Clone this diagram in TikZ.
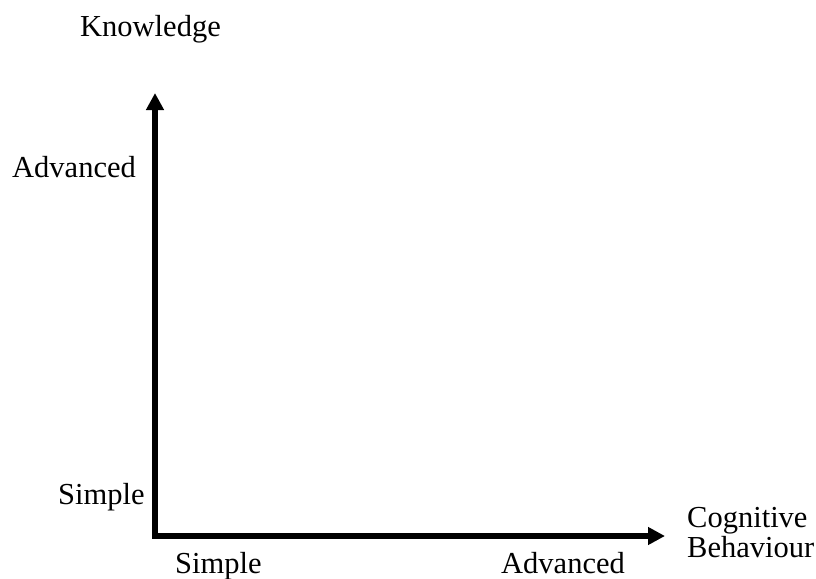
\documentclass[tikz,border=0pt]{standalone}
\usepackage{fontspec}
\setmainfont{Liberation Serif}
\usetikzlibrary{arrows.meta}
\begin{document}
\begin{tikzpicture}[x=1pt,y=-1pt,
  lbl/.style={inner sep=0pt,anchor=base west,font=\fontsize{30.5}{36}\selectfont},
  axis/.style={line width=5.5pt,line join=miter,
    {Triangle[length=17pt,width=17pt]}-{Triangle[length=17pt,width=17pt]}}]
\useasboundingbox[fill=white] (0,0) rectangle (816,578);
\coordinate (O) at (155,536);
\coordinate (ytip) at (155,93);
\coordinate (xtip) at (665,536);
\draw[axis] (ytip) -- (O) -- (xtip);
\node[lbl] (know) at (80,37) {Knowledge};
\node[lbl] (advy) at (12,177) {Advanced};
\node[lbl] (simy) at (58,504) {Simple};
\node[lbl] (simx) at (175,573) {Simple};
\node[lbl] (advx) at (501,573) {Advanced};
\node[lbl] (cog) at (687,527) {Cognitive};
\node[lbl] (beh) at (687,557) {Behaviour};
\end{tikzpicture}
\end{document}
